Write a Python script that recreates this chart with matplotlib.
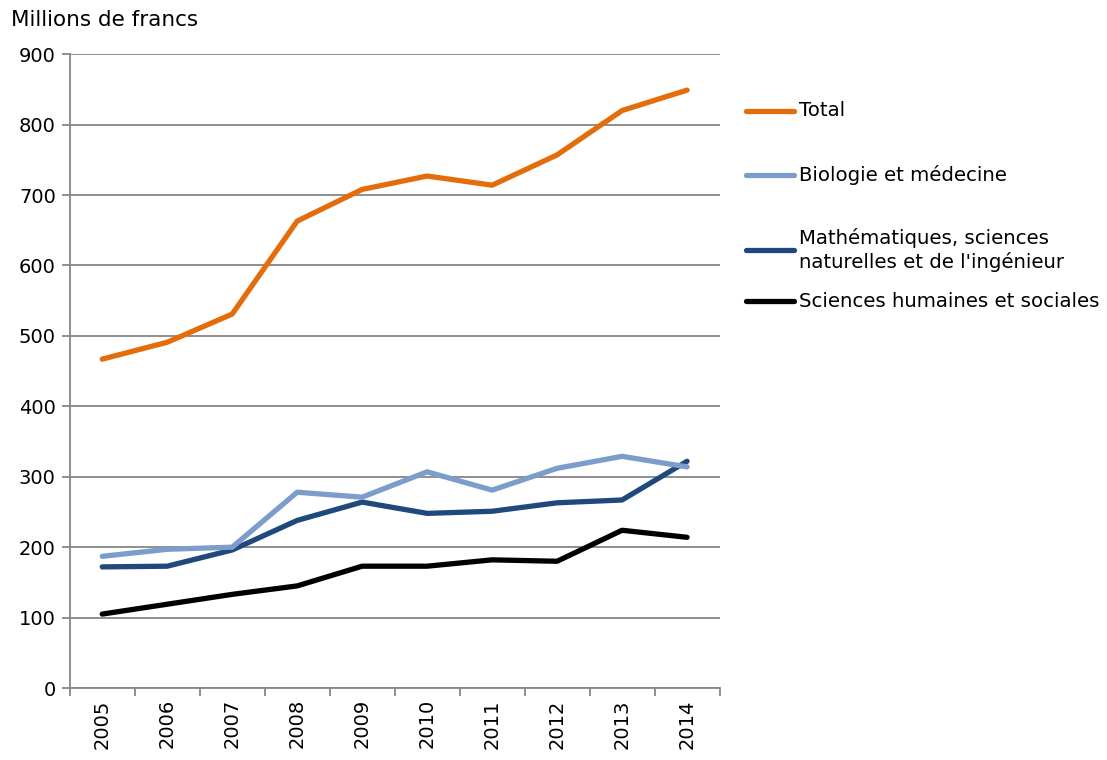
import matplotlib.pyplot as plt
from matplotlib.lines import Line2D

years = ['2005', '2006', '2007', '2008', '2009', '2010', '2011', '2012', '2013', '2014']
total = [467, 491, 531, 663, 708, 727, 714, 757, 820, 849]
biologie = [187, 197, 200, 278, 271, 307, 281, 312, 329, 314]
mathematiques = [172, 173, 196, 238, 264, 248, 251, 263, 267, 322]
sciences_hum = [105, 119, 133, 145, 173, 173, 182, 180, 224, 214]

labels = ['Total', 'Biologie et médecine',
          "Mathématiques, sciences\nnaturelles et de l'ingénieur",
          'Sciences humaines et sociales']
colors = ['#E46C0A', '#7C9CCB', '#1F497D', '#000000']
series = [total, biologie, mathematiques, sciences_hum]

plt.rcParams['font.family'] = ['DejaVu Sans']

fig = plt.figure(figsize=(11.07, 7.6), dpi=100)
ax = fig.add_axes([0.063, 0.0947, 0.587, 0.834])

x = range(len(years))
# draw back to front so Total sits on top like the original
for vals, c in zip(reversed(series), reversed(colors)):
    ax.plot(x, vals, color=c, linewidth=3.8, solid_capstyle='round', zorder=3)

ax.set_xlim(-0.5, len(years) - 0.5)
ax.set_ylim(0, 900)
ax.set_yticks(range(0, 901, 100))
ax.yaxis.grid(True, color='#868686', linewidth=1.3)
ax.set_axisbelow(True)

# category ticks between years, labels centred
ax.set_xticks([i - 0.5 for i in range(len(years) + 1)])
ax.set_xticklabels([])
ax.set_xticks(list(x), minor=True)
ax.set_xticklabels(years, minor=True, rotation=90, fontsize=14)
ax.tick_params(axis='x', which='minor', length=0, pad=8)
ax.tick_params(axis='x', which='major', length=6, color='#868686', width=1.3)
ax.tick_params(axis='y', length=6, color='#868686', width=1.3, labelsize=14, pad=4)

for s in ['top', 'right']:
    ax.spines[s].set_visible(False)
for s in ['left', 'bottom']:
    ax.spines[s].set_color('#868686')
    ax.spines[s].set_linewidth(1.3)

fig.text(11 / 1107, 1 - 20 / 760, 'Millions de francs', fontsize=15.5, va='center', ha='left')

# legend drawn by hand to the right of the plot
leg_y = [111, 175, 250, 301]
for lab, c, yy in zip(labels, colors, leg_y):
    yf = 1 - yy / 760
    fig.add_artist(Line2D([746 / 1107, 794 / 1107], [yf, yf], color=c, linewidth=3.8,
                          solid_capstyle='round', transform=fig.transFigure))
    fig.text(799 / 1107, yf, lab, fontsize=14.2, va='center', ha='left', linespacing=1.2)

fig.savefig('out.png', dpi=100)
